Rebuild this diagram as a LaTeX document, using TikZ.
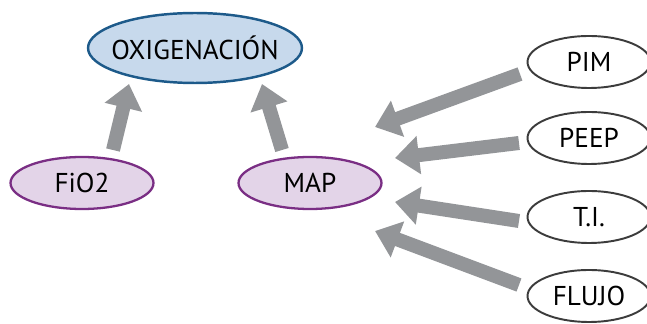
\documentclass[tikz,border=0pt]{standalone}
\usepackage{fontspec}
\setmainfont{PT Sans}
\usetikzlibrary{arrows.meta,shapes.geometric}
\definecolor{ink}{HTML}{3C3C3C}
\definecolor{oxblue}{HTML}{1D5A8A}
\definecolor{oxfill}{HTML}{C7D9EC}
\definecolor{plum}{HTML}{7A2E84}
\definecolor{plumfill}{HTML}{E3D4E8}
\definecolor{arrowgray}{HTML}{939598}

\begin{document}
\begin{tikzpicture}[x=0.02cm,y=-0.02cm,font=\fontsize{15.5}{18}\selectfont,
 oval/.style={ellipse,draw=ink,line width=1.1pt,fill=white,inner ysep=0pt,inner xsep=-10pt},
 goal/.style={oval,draw=oxblue,fill=oxfill,line width=1.4pt,minimum width=4.28cm,minimum height=1.4cm},
 factor/.style={oval,draw=plum,fill=plumfill,line width=1.3pt,minimum width=2.86cm,minimum height=1.04cm},
 param/.style={oval,minimum width=2.46cm,minimum height=1.04cm},
 push/.style={-{Triangle[length=.48cm,width=.74cm]},line width=.28cm,draw=arrowgray}]
\path[use as bounding box] (0,0) rectangle (647,324);
\node[goal] (oxig) at (195,48) {OXIGENACIÓN};
\node[factor] (fio) at (82,183) {FiO2};
\node[factor] (map) at (310,183) {MAP};
\node[param] (pim) at (589,62) {PIM};
\node[param] (peep) at (589,138) {PEEP};
\node[param] (ti) at (589,217) {T.I.};
\node[param] (flujo) at (589,296) {FLUJO};
% free arrow tips, short of the targets
\coordinate (oxigL) at (129,84);
\coordinate (oxigR) at (262,84);
\coordinate (mapA) at (375,127);
\coordinate (mapB) at (395,158);
\coordinate (mapC) at (395,202);
\coordinate (mapD) at (375,231);
\draw[push] ([shift={(31,-33)}]fio.center)--(oxigL);
\draw[push] ([shift={(-28,-33)}]map.center)--(oxigR);
\draw[push] ([shift={(-69,12)}]pim.center)--(mapA);
\draw[push] ([shift={(-70,5)}]peep.center)--(mapB);
\draw[push] ([shift={(-70,4)}]ti.center)--(mapC);
\draw[push] ([shift={(-70,-11)}]flujo.center)--(mapD);
\end{tikzpicture}
\end{document}
